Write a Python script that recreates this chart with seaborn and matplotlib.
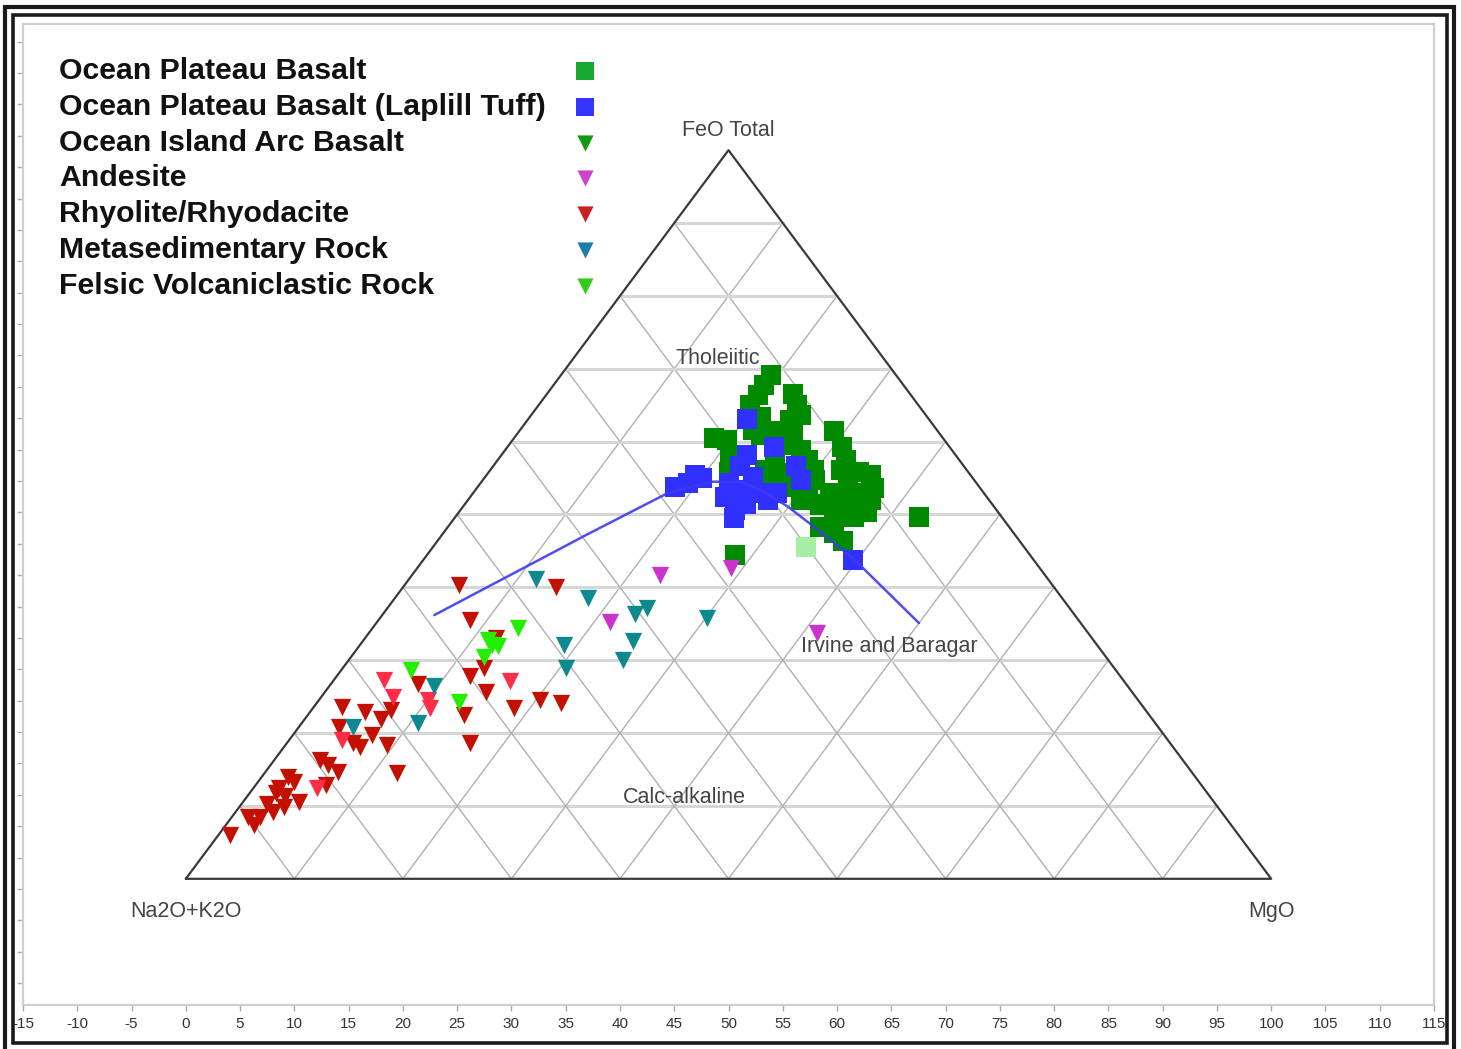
import numpy as np
import pandas as pd
import matplotlib
matplotlib.use("Agg")
import matplotlib.pyplot as plt
from matplotlib.patches import Rectangle
import seaborn as sns

# AFM compositions: FeO(total) % and MgO %, alkalis = remainder
opb_feo = [69.1, 67.8, 66.4, 65.0, 66.6, 65.0, 63.6, 63.4, 61.6, 60.5, 60.2, 61.4,
           61.1, 59.5, 58.8, 61.4, 59.3, 57.5, 57.7, 55.9, 57.5, 55.7, 57.5, 56.1,
           55.4, 53.6, 52.0, 50.6, 52.0, 52.9, 51.5, 50.2, 48.3, 47.4, 46.3, 49.7,
           50.4, 49.7, 44.4, 52.0, 53.8, 53.8, 52.9, 53.8, 52.4, 60.9,
           54.7, 56.1, 55.8, 49.9, 51.3, 63.0, 56.1]
opb_mgo = [19.4, 19.4, 19.5, 19.5, 22.6, 23.8, 24.9, 21.3, 21.5, 18.4, 19.8, 24.1,
           25.4, 25.5, 27.3, 29.0, 30.8, 32.1, 21.3, 22.1, 25.5, 27.0, 28.6, 29.8,
           35.4, 36.6, 37.1, 36.9, 35.0, 32.9, 33.0, 34.6, 34.3, 36.0, 37.4, 36.7,
           37.6, 42.7, 28.4, 30.7, 29.1, 34.1, 35.4, 26.7, 31.1, 22.5,
           30.6, 32.3, 34.1, 35.8, 32.8, 24.2, 25.3]

tuff_feo = [63.1, 59.2, 58.2, 56.6, 54.7, 55.4, 54.3, 53.8, 55.0, 54.3, 52.4, 50.6,
            49.5, 51.5, 52.9, 52.0, 52.9, 55.2, 56.6, 43.8, 53.4]
tuff_mgo = [20.2, 24.6, 22.6, 27.9, 29.3, 19.2, 19.1, 18.2, 20.1, 22.9, 23.5, 25.3,
            25.8, 25.9, 26.2, 27.6, 28.0, 24.7, 22.8, 39.6, 24.1]

# single highlighted sample (pale green square)
sel_feo = [45.6]
sel_mgo = [34.3]

oiab_feo = []
oiab_mgo = []

andesite_feo = [41.7, 42.6, 35.3, 33.7]
andesite_mgo = [22.8, 28.9, 21.4, 41.3]

rhyo_feo = [6.0, 8.5, 7.4, 8.5, 9.2, 11.3, 12.4, 14.0, 13.3, 11.8, 10.6, 9.9, 16.3,
            15.6, 14.7, 12.9, 23.6, 20.9, 18.6, 18.1, 22.9, 22.0, 19.8, 23.2, 18.4,
            14.5, 26.8, 40.3, 40.1, 35.5, 27.8, 28.9, 25.7, 23.4, 24.6, 24.1, 22.5,
            18.6, 33.0, 10.2]
rhyo_mgo = [1.1, 1.5, 2.6, 2.6, 3.4, 3.5, 2.4, 2.4, 3.3, 2.4, 5.1, 4.1, 4.2,
            5.3, 6.7, 6.5, 2.6, 3.7, 6.1, 7.0, 5.1, 7.0, 7.3, 7.3, 9.3,
            12.2, 8.0, 5.0, 14.1, 8.4, 12.3, 13.0, 14.8, 18.5, 20.3, 22.5, 14.4,
            16.9, 12.1, 2.4]
# lighter-shaded rhyolite samples
rhyo2_feo = [12.4, 19.1, 27.3, 25.0, 24.6, 23.4, 27.1]
rhyo2_mgo = [5.9, 4.8, 4.6, 6.6, 10.0, 10.8, 16.3]

meta_feo = [20.9, 26.4, 21.4, 41.2, 38.5, 36.4, 37.1, 35.8, 32.1, 32.6, 30.0, 28.9]
meta_mgo = [5.0, 9.7, 10.7, 11.7, 17.8, 23.2, 23.9, 30.1, 18.8, 24.9, 25.3, 20.6]

felsic_feo = [28.7, 34.4, 32.8, 31.9, 30.5, 24.3, 32.1]
felsic_mgo = [6.4, 13.4, 11.4, 12.8, 12.2, 13.0, 12.2]

# Irvine & Baragar tholeiitic / calc-alkaline boundary
ib_feo = [36.2, 42.4, 47.2, 52.9, 54.5, 54.5, 53.1, 51.1, 47.6, 43.8, 35.1]
ib_mgo = [4.8, 9.6, 13.3, 17.9, 21.1, 23.9, 26.7, 29.9, 34.7, 39.7, 50.0]

legend_labels = ["Ocean Plateau Basalt", "Ocean Plateau Basalt (Laplill Tuff)",
                 "Ocean Island Arc Basalt", "Andesite", "Rhyolite/Rhyodacite",
                 "Metasedimentary Rock", "Felsic Volcaniclastic Rock"]
legend_colors = ["#17a62e", "#3434ff", "#139a13", "#cc44cc", "#cc2020", "#1b7fa3", "#33cc1a"]
legend_markers = ["s", "s", "v", "v", "v", "v", "v"]

xticks = np.arange(-15, 116, 5)

H = np.sqrt(3) / 2


def to_xy(feo, mgo):
    feo = np.asarray(feo, dtype=float)
    mgo = np.asarray(mgo, dtype=float)
    return mgo + feo / 2, feo * H


groups = [
    # name, feo, mgo, marker, color, size, zorder
    ("opb", opb_feo, opb_mgo, "s", "#008a00", 195, 4),
    ("tuff", tuff_feo, tuff_mgo, "s", "#3030ff", 195, 5),
    ("sel", sel_feo, sel_mgo, "s", "#a6eea6", 195, 5),
    ("oiab", oiab_feo, oiab_mgo, "v", "#139a13", 155, 6),
    ("rhyo", rhyo_feo, rhyo_mgo, "v", "#c41000", 155, 6),
    ("rhyo2", rhyo2_feo, rhyo2_mgo, "v", "#ff2d48", 155, 6),
    ("meta", meta_feo, meta_mgo, "v", "#0c8a8e", 155, 7),
    ("andesite", andesite_feo, andesite_mgo, "v", "#cc33cc", 155, 7),
    ("felsic", felsic_feo, felsic_mgo, "v", "#22ee00", 155, 8),
]

rows = []
for name, feo, mgo, *_ in groups:
    x, y = to_xy(feo, mgo)
    for xi, yi in zip(x, y):
        rows.append({"group": name, "x": xi, "y": yi})
df = pd.DataFrame(rows, columns=["group", "x", "y"])

sns.set_style("white")
plt.rcParams["font.family"] = ["Liberation Sans", "DejaVu Sans"]
plt.rcParams["axes.unicode_minus"] = False

W, Hpx = 1461, 1049
fig = plt.figure(figsize=(W / 100, Hpx / 100), dpi=100)
ax = fig.add_axes([23 / W, 1 - 1005 / Hpx, (1434 - 23) / W, (1005 - 24) / Hpx])
ax.set_xlim(-15, 115)
ax.set_ylim(-15, 101.6)

# ternary grid
for k in range(1, 10):
    f = k * 10
    x0, y0 = to_xy(f, 0)
    x1, y1 = to_xy(f, 100 - f)
    ax.plot([x0, x1], [y0, y1], color="#d6d6d6", lw=2.2, zorder=1)
    # constant MgO lines
    xa, ya = to_xy(0, f)
    xb, yb = to_xy(100 - f, f)
    ax.plot([xa, xb], [ya, yb], color="#b0b0b0", lw=1.0, zorder=1)
    # constant alkali lines
    xa, ya = to_xy(0, 100 - f)
    xb, yb = to_xy(100 - f, 0)
    ax.plot([xa, xb], [ya, yb], color="#b0b0b0", lw=1.0, zorder=1)

tx, ty = to_xy([0, 0, 100, 0], [0, 100, 0, 0])
ax.plot(tx, ty, color="#3a3a3a", lw=1.6, zorder=2)

for name, feo, mgo, marker, color, size, z in groups:
    sub = df[df["group"] == name]
    if len(sub) == 0:
        continue
    sns.scatterplot(data=sub, x="x", y="y", marker=marker, color=color, s=size,
                    linewidth=0, ax=ax, zorder=z, legend=False)

lx, ly = to_xy(ib_feo, ib_mgo)
ax.plot(lx, ly, color="#3b3bf0", lw=1.8, zorder=9, alpha=0.9)

# labels
lab_kw = dict(fontsize=15.5, color="#444444", ha="center", va="center", zorder=10)
ax.text(50, 89.0, "FeO Total", **lab_kw)
ax.text(0, -3.9, "Na2O+K2O", **lab_kw)
ax.text(100, -3.9, "MgO", **lab_kw)
ax.text(49.0, 61.9, "Tholeiitic", **lab_kw)
ax.text(45.9, 9.7, "Calc-alkaline", **lab_kw)
ax.text(64.8, 27.6, "Irvine and Baragar", **lab_kw)

# legend drawn as text column + marker column
for i, (lab, col, mk) in enumerate(zip(legend_labels, legend_colors, legend_markers)):
    py = 71 + 35.8 * i
    fig.text(59 / W, 1 - py / Hpx, lab, fontsize=21.8, fontweight="bold",
             color="#111111", ha="left", va="center")
    ax.scatter([(585 - 23) / 1411], [(1005 - py) / 981], marker=mk, color=col,
               s=160 if mk == "s" else 135, linewidths=0, transform=ax.transAxes,
               clip_on=False, zorder=10)

ax.set_xticks(xticks)
ax.set_xticklabels([str(v) for v in xticks])
ax.set_yticks(np.arange(-12.4, 101, 3.73))
ax.set_yticklabels([])
ax.set_xlabel("")
ax.set_ylabel("")
ax.tick_params(axis="x", direction="out", length=4, width=1, color="#aaaaaa",
               labelsize=11, labelcolor="#333333", pad=5, bottom=True)
ax.tick_params(axis="y", direction="out", length=4, width=1, color="#aaaaaa", left=True)
for sp in ax.spines.values():
    sp.set_color("#cfcfcf")
    sp.set_linewidth(1.6)

# double frame around the picture
fig.add_artist(Rectangle((5 / W, 1 - 1060 / Hpx), (1454 - 5) / W, (1060 - 7) / Hpx,
                         transform=fig.transFigure, fill=False, ec="#1a1a1a", lw=3.0,
                         zorder=20))
fig.add_artist(Rectangle((13 / W, 1 - 1043 / Hpx), (1446.5 - 13) / W, (1043 - 14.5) / Hpx,
                         transform=fig.transFigure, fill=False, ec="#1a1a1a", lw=2.6,
                         zorder=20))

fig.savefig("out.png", dpi=100)
